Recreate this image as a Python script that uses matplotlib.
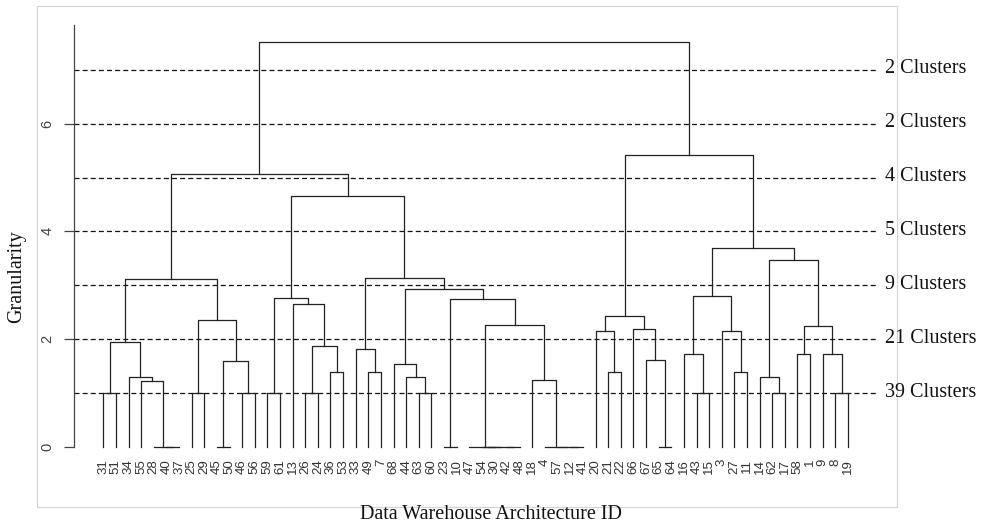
import matplotlib
matplotlib.use("Agg")
import matplotlib.pyplot as plt
from matplotlib.patches import Rectangle
from matplotlib.transforms import offset_copy

plt.rcParams['font.family'] = ['Liberation Sans', 'DejaVu Sans']

# leaf order along the x axis (architecture IDs)
leaf_ids = [31, 51, 34, 55, 28, 40, 37, 25, 29, 45, 50, 46, 56, 59, 61, 13,
            26, 24, 36, 53, 33, 49, 7, 68, 44, 63, 60, 23, 10, 47, 54, 30,
            42, 48, 18, 4, 57, 12, 41, 20, 21, 22, 66, 67, 65, 64, 16, 43,
            15, 3, 27, 11, 14, 62, 17, 58, 1, 9, 8, 19]

# hclust style merge table: negative = leaf id, positive = earlier row (1-based)
merge_a = [-40, -28, -45, -23, -54, -42, 5, -47, -12, -57, -4, -65,
           -31, -25, -46, -59, -26, -63, -43, -62, -8,
           -55, -18, -34, -44, -14, -36, -49, -21, -27, -68, 3, -67,
           -16, -58, -9, -33, 17, 13, -20, -3, -66, 35, 8, 14, 40,
           4, -13, 16, 34, 31, 39, 37, 26, 50, 49, 52, 46, 57]
merge_b = [-37, 1, -50, -10, -30, -48, 6, 7, -41, 9, 10, -64,
           -51, -29, -56, -61, -24, -60, -15, -17, -19,
           2, 11, 22, 18, 20, -53, -7, -22, -11, 25, 15, 12,
           19, -1, 21, 28, 27, 24, 29, 30, 33, 36, 23, 32, 42,
           44, 38, 48, 41, 47, 45, 51, 43, 54, 53, 56, 55, 58]
merge_h = [0, 0, 0, 0, 0, 0, 0, 0, 0, 0, 0, 0,
           1.0, 1.0, 1.0, 1.0, 1.0, 1.0, 1.0, 1.0, 1.0,
           1.22, 1.25, 1.30, 1.29, 1.29, 1.40, 1.40, 1.40, 1.40, 1.54, 1.59, 1.62,
           1.73, 1.73, 1.73, 1.81, 1.87, 1.95, 2.16, 2.16, 2.19, 2.24, 2.27, 2.35, 2.43,
           2.75, 2.65, 2.77, 2.81, 2.94, 3.11, 3.13, 3.47, 3.69, 4.65, 5.06, 5.41, 7.52]

cut_heights = [7, 6, 5, 4, 3, 2, 1]
cut_labels = ["2 Clusters", "2 Clusters", "4 Clusters", "5 Clusters",
              "9 Clusters", "21 Clusters", "39 Clusters"]

W, H = 981, 527
fig = plt.figure(figsize=(W / 100, H / 100), dpi=100)
ax = fig.add_axes([74 / W, 1 - 447 / H, (877 - 74) / W, (447 - 25) / H])
ax.set_xlim(-2.32, 61.3)
ax.set_ylim(0, 7.83)

pos = {lid: i for i, lid in enumerate(leaf_ids)}
node_x = []
node_h = []


def where(ref):
    if ref < 0:
        return pos[-ref], 0.0
    return node_x[ref - 1], node_h[ref - 1]


for a, b, h in zip(merge_a, merge_b, merge_h):
    xa, ha = where(a)
    xb, hb = where(b)
    ax.plot([xa, xa, xb, xb], [ha, h, h, hb], color='#222222', lw=0.9,
            clip_on=False, zorder=3)
    node_x.append((xa + xb) / 2)
    node_h.append(h)

# leaf labels under the tree
lab_tr = offset_copy(ax.transData, fig=fig, x=0, y=-12, units='dots')
for i, lid in enumerate(leaf_ids):
    ax.text(i, 0, str(lid), transform=lab_tr, rotation=90, ha='center',
            va='top', fontsize=9.5, color='#333333')

# cut lines
txt_tr = offset_copy(ax.get_yaxis_transform(), fig=fig, x=0, y=-3.7, units='dots')
for h, lab in zip(cut_heights, cut_labels):
    ax.axhline(h, color='#111111', lw=0.9, linestyle=(0, (4, 2.5)), zorder=2)
    ax.text(1.01, h, lab, transform=txt_tr, ha='left', va='baseline',
            fontsize=14.5, family='Liberation Serif', color='#111111')

for s in ['top', 'right', 'bottom']:
    ax.spines[s].set_visible(False)
ax.spines['left'].set_color('#444444')
ax.spines['left'].set_linewidth(0.9)
ax.set_xticks([])
ax.set_yticks([0, 2, 4, 6])
ax.tick_params(axis='y', length=7.2, width=0.9, color='#444444', pad=7,
               labelsize=10.5, labelcolor='#444444', labelrotation=90)
for t in ax.get_yticklabels():
    t.set_va('center')

fig.text(16.7 / W, 1 - 277 / H, 'Granularity', rotation=90, ha='center',
         va='center', fontsize=14.5, family='Liberation Serif', color='#111111')
fig.text(491 / W, 8 / H, 'Data Warehouse Architecture ID', ha='center',
         va='baseline', fontsize=14.5, family='Liberation Serif', color='#111111')

fig.add_artist(Rectangle((36.5 / W, 1 - 507 / H), (896.7 - 36.5) / W, (507 - 6) / H,
                         transform=fig.transFigure, fill=False, ec='#d3d3d3',
                         lw=0.8, zorder=0))

fig.savefig('out.png', dpi=100)
